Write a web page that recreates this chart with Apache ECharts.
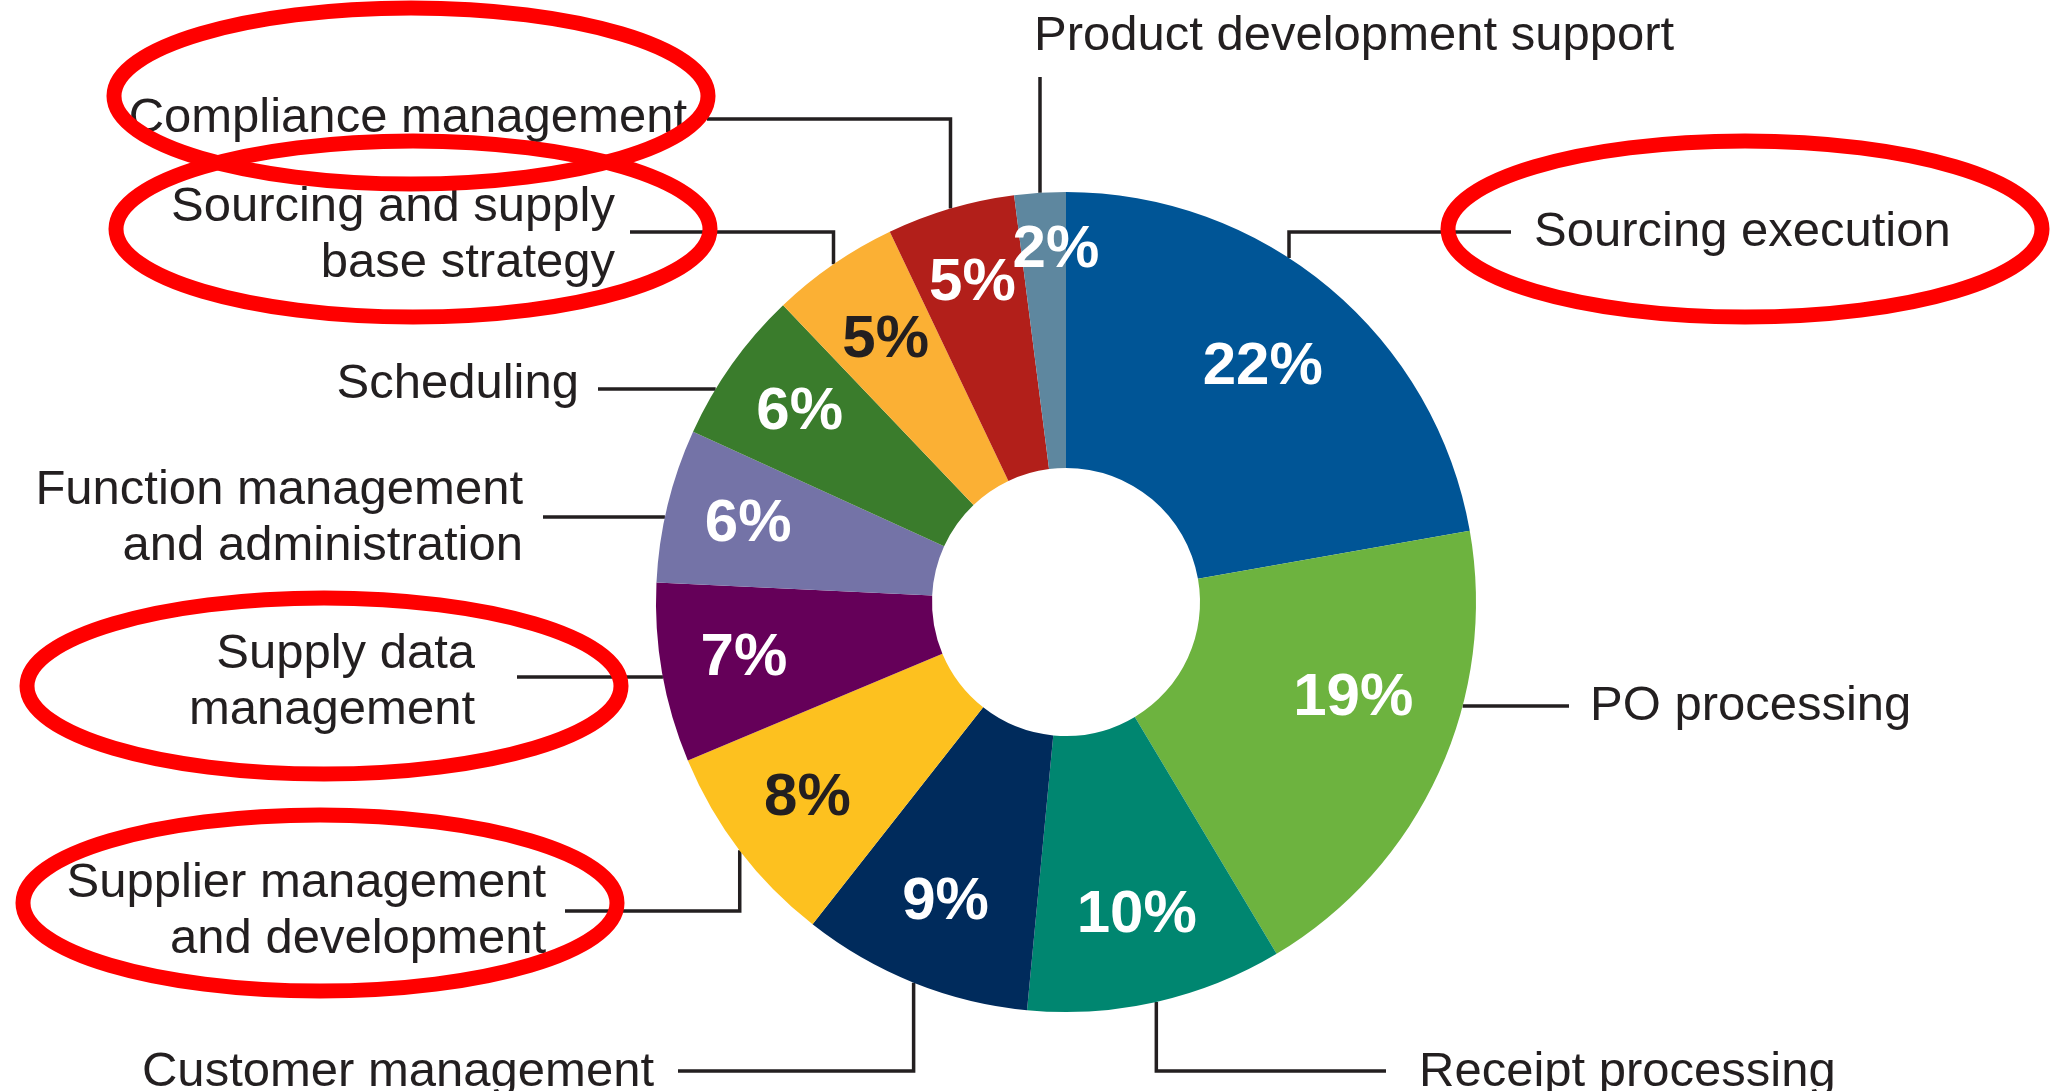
<!DOCTYPE html>
<html><head><meta charset="utf-8">
<script src="https://cdn.jsdelivr.net/npm/echarts@6/dist/echarts.min.js"></script>
<style>html,body{margin:0;padding:0;background:#fff;overflow:hidden}#c{width:2062px;height:1091px}</style>
</head><body><div id="c"></div>
<script>
// ---- data ----
const categories = [
  'Sourcing execution',
  'PO processing',
  'Receipt processing',
  'Customer management',
  'Supplier management\nand development',
  'Supply data\nmanagement',
  'Function management\nand administration',
  'Scheduling',
  'Sourcing and supply\nbase strategy',
  'Compliance management',
  'Product development support'
];
const shares = [22, 19, 10, 9, 8, 7, 6, 6, 5, 5, 2];

// ---- styles / layout (kept apart from data) ----
const sliceColors = ['#005596', '#6db33f', '#008670', '#002b5c', '#fdc11f', '#650059',
                     '#7473a7', '#3a7c2c', '#fbb034', '#b21f1a', '#5e879f'];
const pctLabelColors = ['#ffffff', '#ffffff', '#ffffff', '#ffffff', '#231f20', '#ffffff',
                        '#ffffff', '#ffffff', '#231f20', '#ffffff', '#ffffff'];
const pctLabelRadius = [306, 303, 321, 324, 325, 327, 327, 327, 318, 332, 352];
const pctLabelAngleShift = [0, -6, 0, 0, 0, 0, 0, 0, 0, 0, 2];
// kind: h = horizontal leader, v = vertical then horizontal, up = vertical only
const labelSpec = [
  {kind: 'v', align: 'left',  tx: 1534, ty: 232, ly: 232, end: 1511, ax: 1289},
  {kind: 'h', align: 'left',  tx: 1590, ty: 706, ly: 706, end: 1569},
  {kind: 'v', align: 'left',  tx: 1419, ty: 1072, ly: 1071, end: 1386},
  {kind: 'v', align: 'right', tx: 654,  ty: 1072, ly: 1071, end: 678},
  {kind: 'v', align: 'right', tx: 546,  ty: 911, ly: 911, end: 565},
  {kind: 'h', align: 'right', tx: 475,  ty: 682, ly: 677, end: 517},
  {kind: 'h', align: 'right', tx: 523,  ty: 518, ly: 517, end: 543},
  {kind: 'h', align: 'right', tx: 579,  ty: 384, ly: 389, end: 598},
  {kind: 'v', align: 'right', tx: 615,  ty: 235, ly: 232, end: 630},
  {kind: 'v', align: 'right', tx: 687,  ty: 118, ly: 119, end: 707},
  {kind: 'up', align: 'left', tx: 1034, ty: 36,  ly: 77}
];
const highlightEllipses = [
  {cx: 411, cy: 96}, {cx: 413, cy: 229}, {cx: 1745, cy: 229},
  {cx: 324, cy: 686}, {cx: 320, cy: 903}
];

const W = 2062, H = 1091;
const CX = 1066, CY = 602, R0 = 134, R = 410;
const center = [(CX / W * 100) + '%', (CY / H * 100) + '%'];
const FONT = "'Liberation Sans', Arial, Helvetica, sans-serif";

const chart = echarts.init(document.getElementById('c'), null, {renderer: 'canvas', width: W, height: H});

function outerLabelLayout(p) {
  const s = labelSpec[p.dataIndex];
  const pts = p.labelLinePoints || [[CX, CY - R]];
  let line;
  if (s.kind === 'h') {
    const dy = s.ly - CY;
    const dx = Math.sqrt(Math.max(R * R - dy * dy, 0)) * (s.align === 'left' ? 1 : -1);
    line = [[CX + dx, s.ly], [s.end, s.ly]];
  } else if (s.kind === 'v') {
    let ax = pts[0][0], ay = pts[0][1];
    if (s.ax != null) {
      ax = s.ax;
      const d = Math.sqrt(Math.max(R * R - (ax - CX) * (ax - CX), 0));
      ay = s.ly < CY ? CY - d : CY + d;
    }
    line = [[ax, ay], [ax, s.ly], [s.end, s.ly]];
  } else {
    line = [[pts[0][0], pts[0][1]], [pts[0][0], s.ly]];
  }
  return {x: s.tx, y: s.ty, align: s.align, verticalAlign: 'middle', labelLinePoints: line};
}

function pctLabelLayout(p) {
  const lr = p.labelRect;
  const lx = lr.x + lr.width / 2, ly = lr.y + lr.height / 2;
  const ang = Math.atan2(ly - CY, lx - CX) + pctLabelAngleShift[p.dataIndex] * Math.PI / 180;
  const r = pctLabelRadius[p.dataIndex];
  return {x: CX + r * Math.cos(ang), y: CY + r * Math.sin(ang), align: 'center', verticalAlign: 'middle'};
}

chart.setOption({
  backgroundColor: '#ffffff',
  animation: false,
  series: [
    {
      type: 'pie',
      center: center,
      radius: [R0, R],
      startAngle: 90,
      clockwise: true,
      avoidLabelOverlap: false,
      silent: true,
      itemStyle: {borderWidth: 0},
      label: {
        show: true, position: 'outside', formatter: '{b}',
        fontFamily: FONT, fontSize: 49, lineHeight: 56, color: '#231f20'
      },
      labelLine: {show: true, length: 20, length2: 20, smooth: false,
                  lineStyle: {color: '#231f20', width: 3.5}},
      labelLayout: outerLabelLayout,
      emphasis: {disabled: true},
      data: shares.map((v, i) => ({name: categories[i], value: v, itemStyle: {color: sliceColors[i]}}))
    },
    {
      type: 'pie',
      center: center,
      radius: [300, 344],
      startAngle: 90,
      clockwise: true,
      avoidLabelOverlap: false,
      silent: true,
      z: 3,
      itemStyle: {color: 'rgba(0,0,0,0)', borderWidth: 0},
      label: {
        show: true, position: 'inside',
        formatter: p => p.value + '%',
        fontFamily: FONT, fontSize: 60, fontWeight: 'bold',
        textBorderWidth: 0
      },
      labelLine: {show: false},
      labelLayout: pctLabelLayout,
      emphasis: {disabled: true},
      data: shares.map((v, i) => ({name: categories[i], value: v,
        label: {color: pctLabelColors[i]}}))
    }
  ],
  graphic: highlightEllipses.map(e => ({
    type: 'ellipse', z: 100, silent: true,
    shape: {cx: e.cx, cy: e.cy, rx: 297, ry: 88},
    style: {fill: 'none', stroke: '#ff0000', lineWidth: 15}
  }))
});
</script></body></html>
